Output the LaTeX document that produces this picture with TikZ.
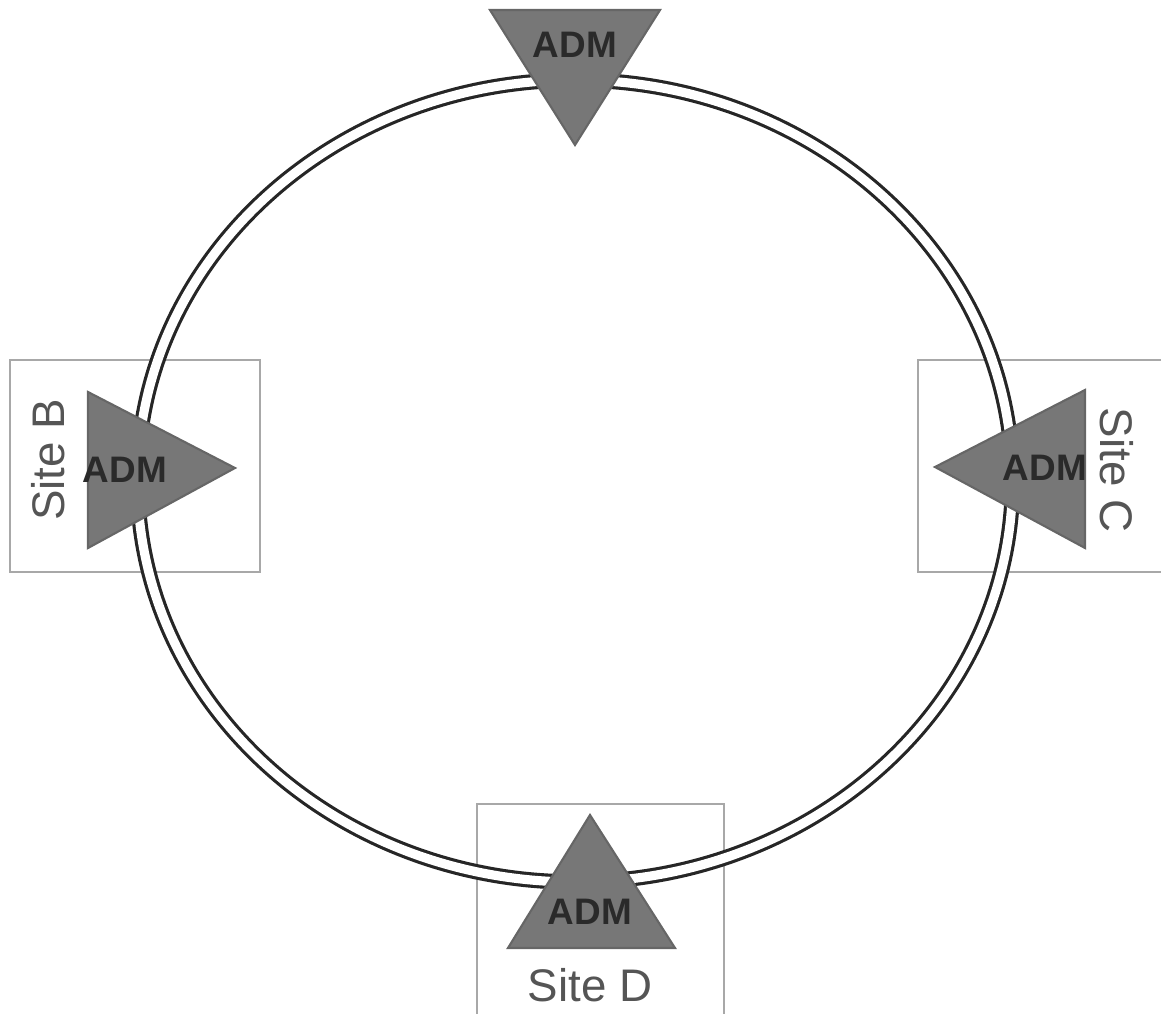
\documentclass[tikz,border=0pt]{standalone}
\usepackage{fontspec}
\setmainfont{Liberation Sans}
\definecolor{trifill}{HTML}{777777}
\definecolor{triedge}{HTML}{666666}
\definecolor{boxedge}{HTML}{A8A8A8}
\definecolor{admtext}{HTML}{2A2A2A}
\definecolor{sitetext}{HTML}{555555}
\tikzset{
  tri/.style={fill=trifill, draw=triedge, line width=1.2pt, line join=miter},
  admlabel/.style={font=\bfseries\fontsize{21}{21}\selectfont, text=admtext, inner sep=0pt},
  sitebox/.style={draw=boxedge, line width=1.2pt},
  sitelabel/.style={font=\fontsize{26}{26}\selectfont, text=sitetext, inner sep=0pt},
  ring/.style={draw=black!85, line width=1.8pt, double=white, double distance=5.2pt}
}
\begin{document}
\begin{tikzpicture}[x=0.02cm, y=-0.02cm]
\useasboundingbox (0,0) rectangle (1161,1014);
% site boxes
\draw[sitebox] (10,360) rectangle (260,572);
\draw[sitebox] (918,360) rectangle (1175,572);
\draw[sitebox] (477,804) rectangle (724,1030);
% ring
\draw[ring] (575,481) ellipse [x radius=437.5, y radius=401];
% triangles
\path[tri] (490,10) -- (660,10) -- (575,145) -- cycle;
\path[tri] (88,392) -- (235,468) -- (88,548) -- cycle;
\path[tri] (1085,390) -- (935,467) -- (1085,548) -- cycle;
\path[tri] (590,815) -- (675,948) -- (508,948) -- cycle;
% labels
\node[admlabel] (adma) at (575,45) {ADM};
\node[admlabel] (admb) at (125,470) {ADM};
\node[admlabel] (admc) at (1045,468) {ADM};
\node[admlabel] (admd) at (590,912) {ADM};
\node[sitelabel, rotate=90] (siteb) at (48,460) {Site B};
\node[sitelabel, rotate=-90] (sitec) at (1117,470) {Site C};
\node[sitelabel] (sited) at (590,985) {Site D};
\end{tikzpicture}
\end{document}
